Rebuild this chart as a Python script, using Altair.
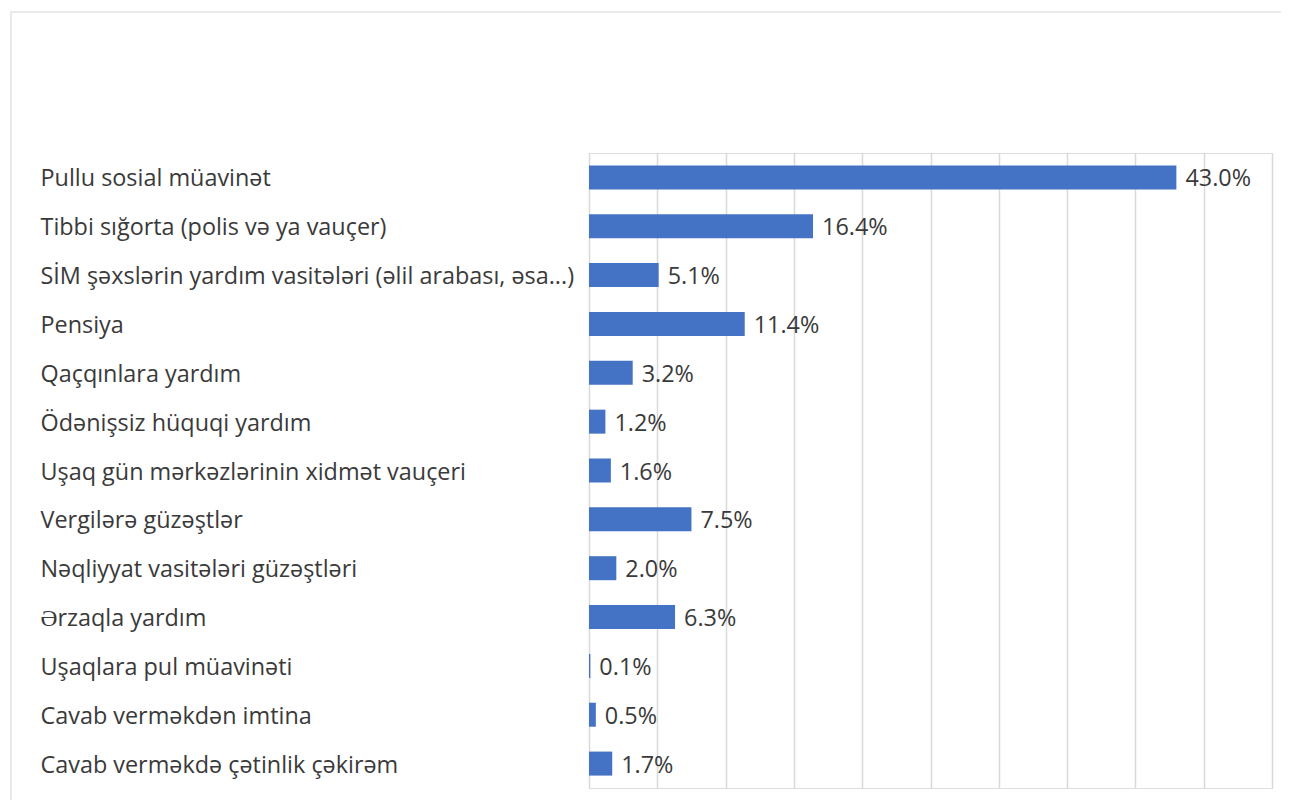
import altair as alt
import pandas as pd

categories = [
    "Pullu sosial müavinət",
    "Tibbi sığorta (polis və ya vauçer)",
    "SİM şəxslərin yardım vasitələri (əlil arabası, əsa...)",
    "Pensiya",
    "Qaçqınlara yardım",
    "Ödənişsiz hüquqi yardım",
    "Uşaq gün mərkəzlərinin xidmət vauçeri",
    "Vergilərə güzəştlər",
    "Nəqliyyat vasitələri güzəştləri",
    "Ərzaqla yardım",
    "Uşaqlara pul müavinəti",
    "Cavab verməkdən imtina",
    "Cavab verməkdə çətinlik çəkirəm",
]
values = [43.0, 16.4, 5.1, 11.4, 3.2, 1.2, 1.6, 7.5, 2.0, 6.3, 0.1, 0.5, 1.7]

df = pd.DataFrame({"cat": categories, "val": values})
df["label"] = [f"{v:.1f}%" for v in values]

FONT = "Open Sans"
TEXT_COLOR = "#3a3a3a"
FS = 23.4

y_enc = alt.Y(
    "cat:N",
    sort=categories,
    title=None,
    scale=alt.Scale(paddingInner=0, paddingOuter=0),
    axis=alt.Axis(
        labelAlign="left",
        labelPadding=549,
        labelOffset=2,
        labelFontSize=FS,
        labelFont=FONT,
        labelColor=TEXT_COLOR,
        labelLimit=600,
        ticks=False,
        domain=False,
        grid=False,
    ),
)
x_enc = alt.X(
    "val:Q",
    title=None,
    scale=alt.Scale(domain=[0, 50], nice=False),
    axis=alt.Axis(
        values=[0, 5, 10, 15, 20, 25, 30, 35, 40, 45, 50],
        labels=False,
        ticks=False,
        domain=False,
        grid=True,
        gridColor="#d9d9d9",
        gridWidth=1.5,
    ),
)

frame = alt.Chart(pd.DataFrame({"a": [0]})).mark_rect(
    fill=None, stroke="#e3e3e3", strokeWidth=1.5
).encode(
    x=alt.value(-578), x2=alt.value(2000), y=alt.value(-141), y2=alt.value(2000)
)

bars = alt.Chart(df).mark_bar(color="#4472C4", size=24).encode(y=y_enc, x=x_enc)
labels = alt.Chart(df).mark_text(
    align="left", baseline="middle", dx=9, dy=2, fontSize=FS, font=FONT, color=TEXT_COLOR
).encode(y=y_enc, x=x_enc, text="label:N")

chart = (
    alt.layer(frame, bars, labels)
    .properties(
        width=683,
        height=635,
        autosize=alt.AutoSizeParams(type="none"),
        padding={"left": 581, "top": 145, "right": 9, "bottom": 12},
    )
    .configure_view(stroke=None)
    .configure(background="white")
)

chart.save("out.html", embed_options={"renderer": "svg", "actions": False})
